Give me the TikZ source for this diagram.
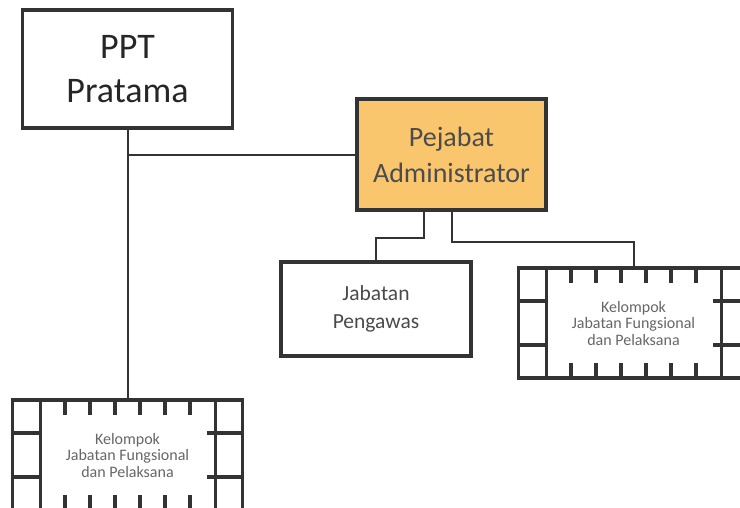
\documentclass[tikz,border=0pt]{standalone}
\usepackage{fontspec}
\setmainfont{Carlito}
\usetikzlibrary{positioning,calc}

\definecolor{boxline}{HTML}{333333}
\definecolor{adminfill}{RGB}{249,198,110}
\definecolor{txtgray}{HTML}{4A4A4A}

\begin{document}
\begin{tikzpicture}[x=1pt, y=-1pt,
        block/.style={draw=boxline, line width=3.5pt, rectangle, inner sep=0pt, align=center, text=txtgray},
        kelompok/.style={draw=boxline, line width=3.5pt, rectangle, inner sep=0pt,
            minimum width=230pt, minimum height=110pt, align=center, text=black!60,
            font=\fontsize{16}{16.5}\selectfont,
            path picture={
                \coordinate (pp-nw) at (path picture bounding box.north west);
                \coordinate (pp-ne) at (path picture bounding box.north east);
                \coordinate (pp-sw) at (path picture bounding box.south west);
                \coordinate (pp-se) at (path picture bounding box.south east);
                \coordinate (pp-n) at (path picture bounding box.north);
                \coordinate (pp-s) at (path picture bounding box.south);
                \begin{scope}[draw=boxline, line width=3.5pt]
                    % side strips
                    \draw ($(pp-nw)+(28pt,0)$) -- ($(pp-sw)+(28pt,0)$);
                    \draw ($(pp-ne)+(-27pt,0)$) -- ($(pp-se)+(-27pt,0)$);
                    \foreach \f in {0.3,0.7}{
                        \draw ($(pp-nw)!\f!(pp-sw)$) -- ++(28pt,0);
                        \draw ($(pp-ne)!\f!(pp-se)$) -- ++(-36pt,0);
                    }
                    % ticks
                    \foreach \dx in {-62.5,-37.5,...,62.5}{
                        \draw[line width=4.5pt] ($(pp-n)+(\dx pt,0)$) -- ++(0,-15pt);
                        \draw[line width=4.5pt] ($(pp-s)+(\dx pt,0)$) -- ++(0,15pt);
                    }
                \end{scope}
            }},
        line/.style={draw=boxline, line width=2pt}
    ]
    \clip (0,0) rectangle (740,507);

    % Nodes
    \node[block, minimum width=210pt, minimum height=118pt, text=black!85,
          font=\fontsize{36}{44}\selectfont] (ppt) at (127.5,69) {PPT\\Pratama};
    \node[block, fill=adminfill, minimum width=189pt, minimum height=111pt,
          text=black!70, font=\fontsize{28}{36}\selectfont] (admin) at (451.5,154.5) {Pejabat\\Administrator};
    \node[block, minimum width=190pt, minimum height=94pt,
          font=\fontsize{21.5}{28}\selectfont] (pengawas) at (376,309) {Jabatan\\Pengawas};
    \node[kelompok] (kelkanan) at (633.5,323) {Kelompok\\Jabatan Fungsional\\dan Pelaksana};
    \node[kelompok] (kelkiri) at (127.5,455) {Kelompok\\Jabatan Fungsional\\dan Pelaksana};

    % Lines
    \draw[line] (ppt.south) -- (kelkiri.north);
    \draw[line] (admin.west) -- (admin.west -| ppt.south);
    \draw[line] ([xshift=-27.5pt]admin.south) -- ++(0,26) -| (pengawas.north);
    \draw[line] (admin.south) -- ++(0,30) -| (kelkanan.north);

\end{tikzpicture}
\end{document}
